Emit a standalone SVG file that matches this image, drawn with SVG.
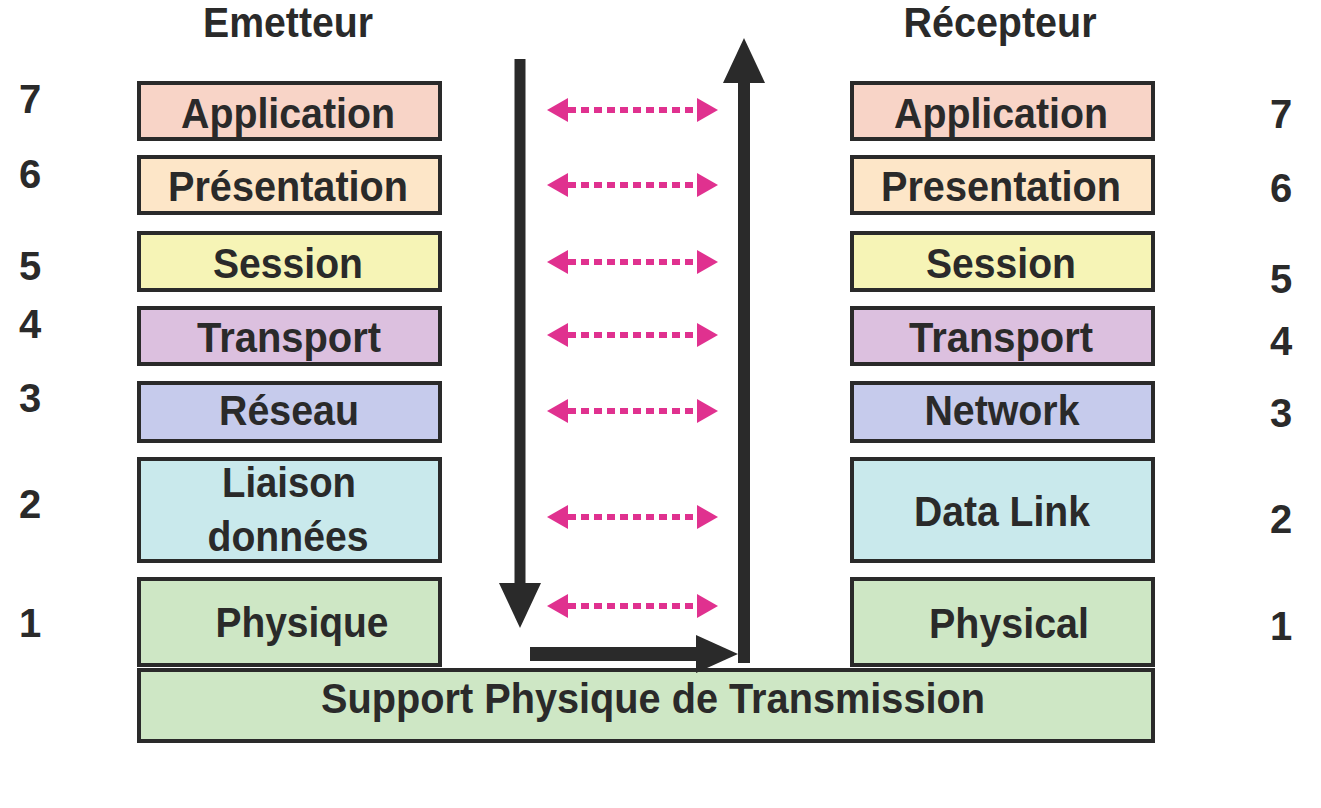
<svg xmlns="http://www.w3.org/2000/svg" width="1321" height="808" viewBox="0 0 1321 808">
<style>
  .box { stroke: #2a2a2a; stroke-width: 4; }
  .lbl { font-family: "Liberation Sans", Arial, sans-serif; font-weight: bold; font-size: 43px; fill: #2a2a2a; text-anchor: middle; }
  .num { font-family: "Liberation Sans", Arial, sans-serif; font-weight: bold; font-size: 40px; fill: #2a2a2a; text-anchor: middle; }
  .pink { stroke: #e0318f; stroke-width: 6; stroke-dasharray: 8 5; fill: none; }
  .blk { stroke: #2a2a2a; fill: none; }
  .c7 { fill: #f8d4c7; } .c6 { fill: #fde6c8; } .c5 { fill: #f6f4b6; } .c4 { fill: #dcc0df; }
  .c3 { fill: #c6cbec; } .c2 { fill: #c9e9ec; } .c1 { fill: #cee7c5; }
</style>
<defs>
  <marker id="ph" viewBox="0 0 21 24" markerWidth="21" markerHeight="24" refX="0" refY="12" orient="auto-start-reverse" markerUnits="userSpaceOnUse">
    <path d="M0,0 L21,12 L0,24 z" fill="#e0318f"/>
  </marker>
  <marker id="bv" viewBox="0 0 45 42" markerWidth="45" markerHeight="42" refX="0" refY="21" orient="auto" markerUnits="userSpaceOnUse">
    <path d="M0,0 L45,21 L0,42 z" fill="#2a2a2a"/>
  </marker>
  <marker id="bh" viewBox="0 0 42 38" markerWidth="42" markerHeight="38" refX="0" refY="19" orient="auto" markerUnits="userSpaceOnUse">
    <path d="M0,0 L42,19 L0,38 z" fill="#2a2a2a"/>
  </marker>
</defs>
<rect width="1321" height="808" fill="#ffffff"/>

<text class="lbl" x="288" y="37" font-size="39" textLength="170" lengthAdjust="spacingAndGlyphs">Emetteur</text>
<text class="lbl" x="1000" y="37" font-size="39" textLength="193" lengthAdjust="spacingAndGlyphs">Récepteur</text>

<g id="numbers-left">
  <text class="num" x="30" y="113">7</text>
  <text class="num" x="30" y="188">6</text>
  <text class="num" x="30" y="280">5</text>
  <text class="num" x="30" y="338">4</text>
  <text class="num" x="30" y="412">3</text>
  <text class="num" x="30" y="518">2</text>
  <text class="num" x="30" y="637">1</text>
</g>
<g id="numbers-right">
  <text class="num" x="1281" y="128">7</text>
  <text class="num" x="1281" y="202">6</text>
  <text class="num" x="1281" y="293">5</text>
  <text class="num" x="1281" y="355">4</text>
  <text class="num" x="1281" y="427">3</text>
  <text class="num" x="1281" y="533">2</text>
  <text class="num" x="1281" y="640">1</text>
</g>

<g id="e-application"><rect class="box c7" x="139" y="83" width="301" height="56"/><text class="lbl" x="288" y="128" textLength="214" lengthAdjust="spacingAndGlyphs">Application</text></g>
<g id="e-presentation"><rect class="box c6" x="139" y="157" width="301" height="56"/><text class="lbl" x="288" y="201" textLength="240" lengthAdjust="spacingAndGlyphs">Présentation</text></g>
<g id="e-session"><rect class="box c5" x="139" y="233" width="301" height="57"/><text class="lbl" x="288" y="278" textLength="150" lengthAdjust="spacingAndGlyphs">Session</text></g>
<g id="e-transport"><rect class="box c4" x="139" y="308" width="301" height="56"/><text class="lbl" x="289" y="352" textLength="184" lengthAdjust="spacingAndGlyphs">Transport</text></g>
<g id="e-reseau"><rect class="box c3" x="139" y="383" width="301" height="58"/><text class="lbl" x="289" y="425" textLength="140" lengthAdjust="spacingAndGlyphs">Réseau</text></g>
<g id="e-liaison"><rect class="box c2" x="139" y="459" width="301" height="102"/><text class="lbl" x="289" y="497" textLength="134" lengthAdjust="spacingAndGlyphs">Liaison</text><text class="lbl" x="288" y="551" textLength="161" lengthAdjust="spacingAndGlyphs">données</text></g>
<g id="e-physique"><rect class="box c1" x="139" y="579" width="301" height="86"/><text class="lbl" x="302" y="637" textLength="173" lengthAdjust="spacingAndGlyphs">Physique</text></g>

<g id="r-application"><rect class="box c7" x="852" y="83" width="301" height="56"/><text class="lbl" x="1001" y="128" textLength="214" lengthAdjust="spacingAndGlyphs">Application</text></g>
<g id="r-presentation"><rect class="box c6" x="852" y="157" width="301" height="56"/><text class="lbl" x="1001" y="201" textLength="240" lengthAdjust="spacingAndGlyphs">Presentation</text></g>
<g id="r-session"><rect class="box c5" x="852" y="233" width="301" height="57"/><text class="lbl" x="1001" y="278" textLength="150" lengthAdjust="spacingAndGlyphs">Session</text></g>
<g id="r-transport"><rect class="box c4" x="852" y="308" width="301" height="56"/><text class="lbl" x="1001" y="352" textLength="184" lengthAdjust="spacingAndGlyphs">Transport</text></g>
<g id="r-network"><rect class="box c3" x="852" y="383" width="301" height="58"/><text class="lbl" x="1002" y="425" textLength="155" lengthAdjust="spacingAndGlyphs">Network</text></g>
<g id="r-datalink"><rect class="box c2" x="852" y="459" width="301" height="102"/><text class="lbl" x="1002" y="526" textLength="176" lengthAdjust="spacingAndGlyphs">Data Link</text></g>
<g id="r-physical"><rect class="box c1" x="852" y="579" width="301" height="86"/><text class="lbl" x="1009" y="638" textLength="160" lengthAdjust="spacingAndGlyphs">Physical</text></g>

<g id="support"><rect class="box c1" x="139" y="670" width="1014" height="71"/><text class="lbl" x="653" y="713" textLength="664" lengthAdjust="spacingAndGlyphs">Support Physique de Transmission</text></g>

<g id="connectors">
  <line class="pink" x1="568" y1="110" x2="697" y2="110" marker-start="url(#ph)" marker-end="url(#ph)"/>
  <line class="pink" x1="568" y1="185" x2="697" y2="185" marker-start="url(#ph)" marker-end="url(#ph)"/>
  <line class="pink" x1="568" y1="262" x2="697" y2="262" marker-start="url(#ph)" marker-end="url(#ph)"/>
  <line class="pink" x1="568" y1="335" x2="697" y2="335" marker-start="url(#ph)" marker-end="url(#ph)"/>
  <line class="pink" x1="568" y1="411" x2="697" y2="411" marker-start="url(#ph)" marker-end="url(#ph)" stroke-width="4"/>
  <line class="pink" x1="568" y1="517" x2="697" y2="517" marker-start="url(#ph)" marker-end="url(#ph)" stroke-width="4"/>
  <line class="pink" x1="568" y1="606" x2="697" y2="606" marker-start="url(#ph)" marker-end="url(#ph)"/>
  <line class="blk" x1="520" y1="59" x2="520" y2="583" stroke-width="11" marker-end="url(#bv)"/>
  <line class="blk" x1="530" y1="654" x2="696" y2="654" stroke-width="14" marker-end="url(#bh)"/>
  <line class="blk" x1="744" y1="663" x2="744" y2="83" stroke-width="12" marker-end="url(#bv)"/>
</g>
</svg>
